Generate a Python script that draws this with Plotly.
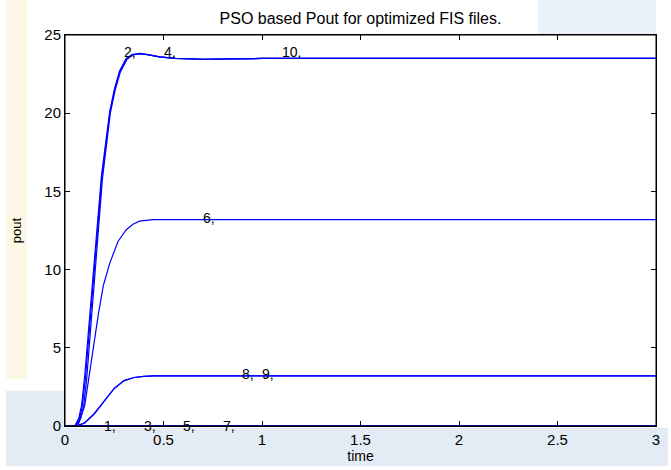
import plotly.graph_objects as go

# ---- data ----
t_2 = [0, 0.05, 0.07, 0.084, 0.10, 0.13, 0.143, 0.185, 0.227, 0.252, 0.277, 0.311, 0.34, 0.378, 0.42, 0.48, 0.56, 0.70, 1.0, 3.0]
pout_2 = [0, 0, 0.5, 1.3, 3.2, 7.6, 9.9, 16.0, 20.1, 21.6, 22.7, 23.5, 23.75, 23.82, 23.75, 23.6, 23.5, 23.45, 23.5, 23.5]
t_4 = [0, 0.055, 0.08, 0.095, 0.11, 0.135, 0.15, 0.19, 0.23, 0.255, 0.28, 0.315, 0.345, 0.38, 0.425, 0.485, 0.56, 0.70, 1.0, 3.0]
pout_4 = [0, 0, 0.5, 1.3, 3.0, 7.2, 9.6, 15.8, 20.0, 21.5, 22.6, 23.45, 23.72, 23.8, 23.72, 23.58, 23.5, 23.45, 23.5, 23.5]
t_10 = [0, 0.052, 0.074, 0.088, 0.104, 0.133, 0.146, 0.187, 0.228, 0.253, 0.278, 0.312, 0.342, 0.379, 0.422, 0.482, 0.56, 0.70, 1.0, 3.0]
pout_10 = [0, 0, 0.5, 1.3, 3.1, 7.5, 9.8, 15.9, 20.05, 21.55, 22.65, 23.48, 23.74, 23.81, 23.74, 23.6, 23.5, 23.45, 23.5, 23.5]

t_6 = [0, 0.065, 0.10, 0.143, 0.17, 0.195, 0.227, 0.269, 0.311, 0.345, 0.378, 0.445, 0.6, 3.0]
pout_6 = [0, 0, 1.3, 5.0, 7.2, 9.0, 10.4, 11.8, 12.55, 12.9, 13.1, 13.2, 13.2, 13.2]

t_8 = [0, 0.06, 0.10, 0.15, 0.20, 0.25, 0.30, 0.35, 0.40, 0.45, 3.0]
pout_8 = [0, 0, 0.2, 0.8, 1.6, 2.4, 2.9, 3.1, 3.17, 3.2, 3.2]
pout_9 = [0, 0, 0.2, 0.8, 1.6, 2.4, 2.9, 3.1, 3.17, 3.2, 3.2]

t_zero = [0, 3.0]
pout_zero = [0, 0]  # files 1, 3, 5, 7 stay at zero

label_text = ["1,", "2,", "3,", "4,", "5,", "6,", "7,", "8,", "9,", "10,"]
label_t = [0.2, 0.3, 0.4, 0.5, 0.6, 0.7, 0.8, 0.9, 1.0, 1.1]
label_y = [0, 23.9, 0, 23.9, 0, 13.3, 0, 3.33, 3.33, 23.9]

x_ticks = [0, 0.5, 1, 1.5, 2, 2.5, 3]
y_ticks = [0, 5, 10, 15, 20, 25]

BLUE = "#0000ff"
FONT = "Liberation Sans, Arial, sans-serif"

fig = go.Figure()
series = [
    (t_zero, pout_zero), (t_zero, pout_zero), (t_zero, pout_zero), (t_zero, pout_zero),
    (t_8, pout_8), (t_8, pout_9), (t_6, pout_6),
    (t_2, pout_2), (t_4, pout_4), (t_10, pout_10),
]
for xs, ys in series:
    fig.add_trace(go.Scatter(x=xs, y=ys, mode="lines",
                             line=dict(color=BLUE, width=1.2),
                             showlegend=False, hoverinfo="skip"))

for txt, tx, ty in zip(label_text, label_t, label_y):
    fig.add_annotation(x=tx, y=ty, text=txt, showarrow=False,
                       xanchor="left", yanchor="middle", xshift=-2,
                       font=dict(family=FONT, size=14, color="black"))

# faint watermark-like background patches outside the plot area
shapes = [
    dict(type="rect", xref="paper", yref="paper", x0=-0.1, x1=-0.065, y0=0.12, y1=1.09,
         fillcolor="#fdf7e6", line=dict(width=0), layer="below"),
    dict(type="rect", xref="paper", yref="paper", x0=-0.1, x1=1.02, y0=-0.102, y1=-0.005,
         fillcolor="#e3ebf5", line=dict(width=0), layer="below"),
    dict(type="rect", xref="paper", yref="paper", x0=-0.1, x1=-0.002, y0=-0.005, y1=0.09,
         fillcolor="#e3ebf5", line=dict(width=0), layer="below"),
    dict(type="rect", xref="paper", yref="paper", x0=0.80, x1=1.0, y0=1.003, y1=1.09,
         fillcolor="#eaf1f9", line=dict(width=0), layer="below"),
    dict(type="rect", xref="x domain", yref="y domain", x0=0, x1=1, y0=0, y1=1,
         line=dict(color="black", width=1), fillcolor="rgba(0,0,0,0)", layer="above"),
]

fig.update_layout(
    width=671, height=470,
    margin=dict(l=65, r=11, t=35, b=40),
    paper_bgcolor="white", plot_bgcolor="white",
    shapes=shapes,
    title=dict(text="PSO based Pout for optimized FIS files.", x=0.5, xref="paper", xanchor="center",
               y=1 - 18 / 470, yref="container", yanchor="middle",
               font=dict(family=FONT, size=16, color="black")),
    font=dict(family=FONT, size=15, color="black"),
    xaxis=dict(range=[0, 3], tickvals=x_ticks, ticktext=[str(v) for v in x_ticks],
               showgrid=False, zeroline=False, showline=True, linecolor="black", linewidth=1,
               mirror="ticks", ticks="inside", ticklen=5, tickcolor="black",
               tickfont=dict(size=15),
               title=dict(text="time", standoff=1, font=dict(size=14))),
    yaxis=dict(range=[0, 25], tickvals=y_ticks, ticktext=[str(v) for v in y_ticks],
               showgrid=False, zeroline=False, showline=True, linecolor="black", linewidth=1,
               mirror="ticks", ticks="inside", ticklen=5, tickcolor="black",
               tickfont=dict(size=15),
               title=dict(text="pout", standoff=19, font=dict(size=13))),
)

fig.write_html("out.html")
